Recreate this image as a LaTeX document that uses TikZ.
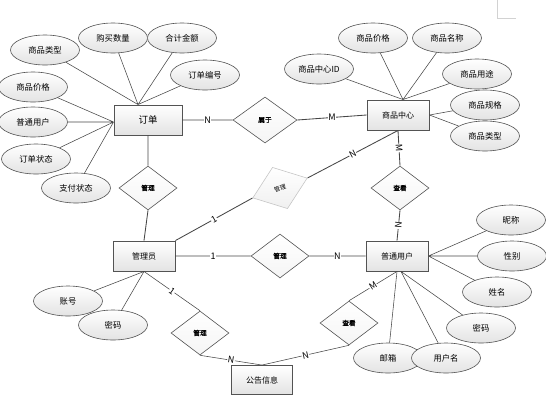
\documentclass[tikz,border=0pt]{standalone}
\usepackage{fontspec}
\setmainfont{Noto Sans CJK SC}[AutoFakeBold=1.5]
\usepackage{tikz}
\usetikzlibrary{shapes.geometric}

\tikzset{
  entity/.style={draw=gray!65!black, line width=0.9pt, top color=white, bottom color=gray!22,
    minimum width=62pt, minimum height=30pt, inner sep=0pt, font=\fontsize{8}{8}\selectfont},
  attr/.style={ellipse, draw=gray!65!black, line width=0.6pt, top color=white, bottom color=gray!22,
    minimum width=69pt, minimum height=30pt, inner sep=0pt, font=\fontsize{8.3}{8.3}\selectfont},
  rel/.style={diamond, draw=gray!65!black, line width=0.6pt, top color=white, bottom color=gray!8,
    minimum width=58pt, minimum height=44pt, inner sep=0pt, font=\fontsize{6.7}{6.7}\selectfont\bfseries},
  card/.style={fill=white, inner sep=0.5pt, font=\fontsize{9}{9}\selectfont},
  link/.style={draw=gray!55!black, line width=0.85pt},
  alink/.style={draw=gray!55!black, line width=0.55pt}
}

\begin{document}
\begin{tikzpicture}[x=1pt,y=-1pt]
\useasboundingbox (0,0) rectangle (546,408);
\draw[gray!35, line width=0.5pt] (497,0) -- (497,18) -- (516,18);

% entities
\node[entity, minimum width=68pt, font=\fontsize{9.5}{9.5}\selectfont] (dd) at (148,120) {订单};
\node[entity] (spzx) at (398,115) {商品中心};
\node[entity] (gly) at (144,256) {管理员};
\node[entity] (pt) at (397,256) {普通用户};
\node[entity, minimum width=61pt, minimum height=29pt] (gg) at (262,380) {公告信息};

% relations
\node[rel, minimum width=64pt, minimum height=46pt] (sy) at (265,120) {属于};
\node[rel] (gl1) at (148,188) {管理};
\node[rel, rotate=20, draw=gray!45, bottom color=gray!12, font=\fontsize{6}{6}\selectfont] (gl2) at (280,188) {管理};
\node[rel] (ck1) at (400,188) {查看};
\node[rel] (gl3) at (280,256) {管理};
\node[rel] (gl4) at (200,333) {管理};
\node[rel] (ck2) at (349,323) {查看};

% attributes
\node[attr] (a1) at (45,50) {商品类型};
\node[attr] (a2) at (113,38) {购买数量};
\node[attr] (a3) at (182,38) {合计金额};
\node[attr] (a4) at (205,75) {订单编号};
\node[attr] (a5) at (33,87) {商品价格};
\node[attr] (a6) at (33,122) {普通用户};
\node[attr] (a7) at (36,159) {订单状态};
\node[attr] (a8) at (76,188) {支付状态};

\node[attr] (b1) at (319,69) {商品中心ID};
\node[attr] (b2) at (373,38) {商品价格};
\node[attr] (b3) at (447,38) {商品名称};
\node[attr] (b4) at (477,74) {商品用途};
\node[attr] (b5) at (485,105) {商品规格};
\node[attr] (b6) at (485,136) {商品类型};

\node[attr] (c1) at (68,301) {账号};
\node[attr] (c2) at (113,325) {密码};

\node[attr] (d1) at (511,220) {昵称};
\node[attr] (d2) at (512,256) {性别};
\node[attr] (d3) at (497,292) {姓名};
\node[attr] (d4) at (481,328) {密码};
\node[attr] (d6) at (388,358) {邮箱};
\node[attr] (d5) at (446,358) {用户名};

% attribute links
\draw[alink]
(a1) -- ([xshift=-10pt]dd.north)
(a2) -- ([xshift=-10pt]dd.north)
(a3) -- ([xshift=-10pt]dd.north)
(a4) -- ([xshift=-10pt]dd.north)
(a5) -- ([yshift=-2pt]dd.west)
(a6) -- ([yshift=-2pt]dd.west)
(a7) -- ([yshift=-2pt]dd.west)
(a8) -- ([yshift=-2pt]dd.west);
\draw[alink]
(b1) -- ([xshift=5pt]spzx.north)
(b2) -- ([xshift=5pt]spzx.north)
(b3) -- ([xshift=5pt]spzx.north)
(b4) -- ([xshift=5pt]spzx.north)
(b5) -- (spzx.east)
(b6) -- (spzx.east);
\draw[alink]
(c1) -- (gly.south)
(c2) -- (gly.south);
\draw[alink]
(d1) -- (pt.east)
(d2) -- (pt.east)
(d3) -- (pt.east)
(d4) -- ([xshift=4pt]pt.south)
(d5) -- ([xshift=4pt]pt.south)
(d6) -- (pt.south);

% relation links
\draw[link]
(dd.east) -- node[card] {N} (sy.west)
(sy.east) -- node[card] {M} (spzx.west)
(dd.south) -- (gl1.north)
(gl1.south) -- (gly.north)
(gly.north east) -- node[card, sloped] {1} (gl2.west)
(gl2.east) -- node[card, sloped] {N} (spzx.south)
(spzx.south) -- node[card, sloped] {M} (ck1.north)
(ck1.south) -- node[card, sloped] {N} (pt.north)
(gly.east) -- node[card] {1} (gl3.west)
(gl3.east) -- node[card] {N} (pt.west);
\draw[alink]
(gly.south) -- node[card, sloped] {1} (gl4.north)
(gl4.south) -- node[card, sloped] {N} (gg.north)
(pt.south) -- node[card, sloped] {M} (ck2.north)
(ck2.south) -- node[card, sloped] {N} (gg.north);
\end{tikzpicture}
\end{document}
